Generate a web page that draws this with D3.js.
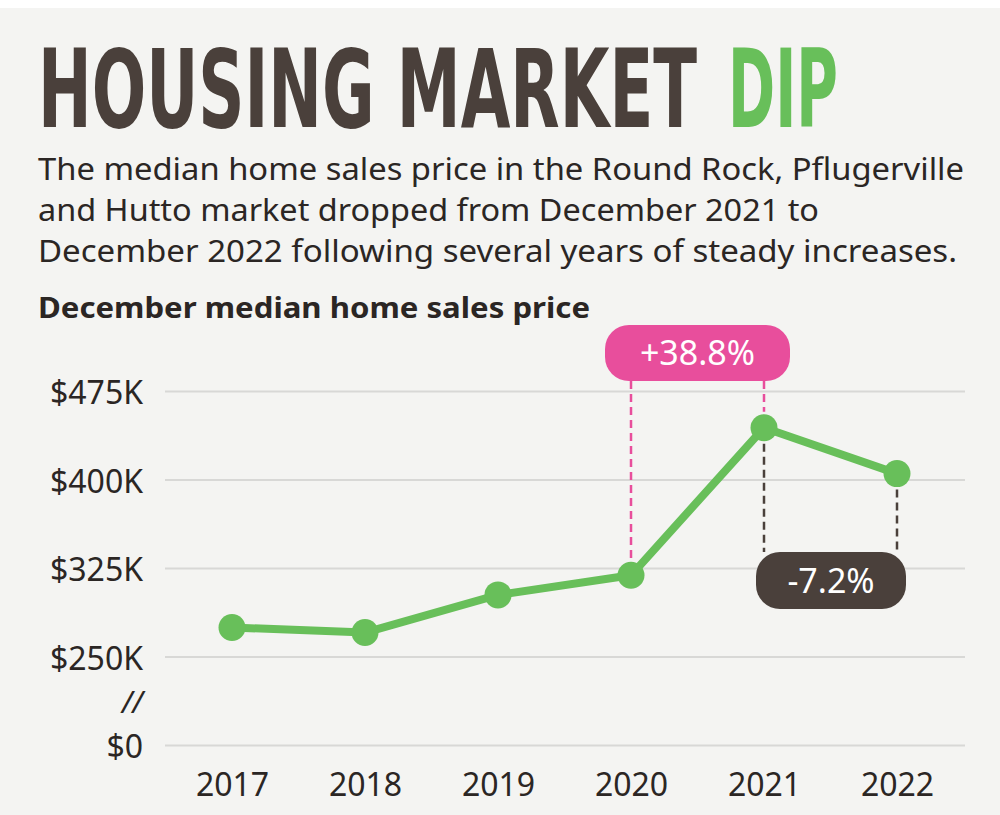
<!DOCTYPE html>
<html>
<head>
<meta charset="utf-8">
<script src="https://cdn.jsdelivr.net/npm/d3@7"></script>
<style>
  html, body { margin: 0; padding: 0; background: #fff; }
  svg { display: block; }
</style>
</head>
<body>
<div id="chart"></div>
<script>
// chart data
const years = [2017, 2018, 2019, 2020, 2021, 2022];
const prices = [274600, 270300, 302200, 318800, 443900, 405000];
const yTicks = [0, 250000, 325000, 400000, 475000];
const yTickLabels = ["$0", "$250K", "$325K", "$400K", "$475K"];
const changes = [
  { from: 2020, to: 2021, label: "+38.8%" },
  { from: 2021, to: 2022, label: "-7.2%" }
];

const W = 1000, H = 815;
const ink = "#2b2624", brown = "#4a403b", green = "#68bf5a", pink = "#e84e9c";

const svg = d3.select("#chart").append("svg")
  .attr("width", W).attr("height", H);

svg.append("rect").attr("x", 0).attr("y", 8).attr("width", W).attr("height", H - 8)
  .attr("fill", "#f4f4f2");

// title, two pieces so each can be fitted on its own
const titleParts = [
  { t: "HOUSING MARKET", x: 38, w: 659, fill: brown },
  { t: "DIP", x: 728, w: 110, fill: green }
];
svg.append("g").selectAll("text").data(titleParts).join("text")
  .attr("x", d => d.x).attr("y", 127)
  .attr("font-family", "'Liberation Sans Narrow', 'DejaVu Sans Condensed', sans-serif")
  .attr("font-weight", "bold")
  .attr("font-size", 108)
  .attr("fill", d => d.fill)
  .attr("textLength", d => d.w)
  .attr("lengthAdjust", "spacingAndGlyphs")
  .text(d => d.t);

// subtitle
const subLines = [
  { t: "The median home sales price in the Round Rock, Pflugerville", w: 926 },
  { t: "and Hutto market dropped from December 2021 to", w: 781 },
  { t: "December 2022 following several years of steady increases.", w: 919 }
];
svg.append("g").selectAll("text").data(subLines).join("text")
  .attr("x", 38).attr("y", (d, i) => 180 + i * 41)
  .attr("font-family", "'Noto Sans', sans-serif")
  .attr("font-size", 31)
  .attr("fill", ink)
  .attr("textLength", d => d.w)
  .attr("lengthAdjust", "spacingAndGlyphs")
  .text(d => d.t);

svg.append("text")
  .attr("x", 38).attr("y", 318)
  .attr("font-family", "'Noto Sans', sans-serif")
  .attr("font-weight", "bold")
  .attr("font-size", 28)
  .attr("fill", ink)
  .attr("textLength", 552)
  .attr("lengthAdjust", "spacingAndGlyphs")
  .text("December median home sales price");

// scales
const x = d3.scalePoint().domain(years).range([232, 897]);
const y = d3.scaleLinear().domain([0, 250000, 475000]).range([745, 656.5, 391]);

// y axis with gridlines
const yAxis = svg.append("g")
  .attr("transform", "translate(165,0)")
  .call(d3.axisLeft(y)
    .tickValues(yTicks)
    .tickFormat((d, i) => yTickLabels[i])
    .tickSize(-800)
    .tickPadding(22));
yAxis.select(".domain").remove();
yAxis.selectAll(".tick line").attr("stroke", "#d8d8d6").attr("stroke-width", 2);
yAxis.selectAll(".tick text")
  .attr("font-family", "'Noto Sans', sans-serif")
  .attr("font-size", 32)
  .attr("fill", ink)
  .attr("dy", "0.4em");

// axis break mark
svg.append("text")
  .attr("x", 143).attr("y", (y(0) + y(250000)) / 2 + 12)
  .attr("text-anchor", "end")
  .attr("font-family", "'Noto Sans', sans-serif")
  .attr("font-size", 30)
  .attr("font-style", "italic")
  .attr("fill", ink)
  .text("//");

// x axis
const xAxis = svg.append("g")
  .attr("transform", "translate(0,769)")
  .call(d3.axisBottom(x).tickSize(0).tickPadding(0));
xAxis.select(".domain").remove();
xAxis.selectAll(".tick text")
  .attr("font-family", "'Noto Sans', sans-serif")
  .attr("font-size", 32)
  .attr("fill", ink)
  .attr("dy", "0.85em");

const pts = years.map((yr, i) => ({ year: yr, value: prices[i] }));
const valueOf = yr => prices[years.indexOf(yr)];

// annotations
const up = changes[0], down = changes[1];
const upTop = 325, upBot = 381;
const dnTop = 552, dnBot = 609;

svg.append("g").selectAll("line").data([up.from, up.to]).join("line")
  .attr("x1", d => x(d)).attr("x2", d => x(d))
  .attr("y1", upBot).attr("y2", d => y(valueOf(d)) - 16)
  .attr("stroke", pink).attr("stroke-width", 2.5)
  .attr("stroke-dasharray", "8,5");

svg.append("g").selectAll("line").data([down.from, down.to]).join("line")
  .attr("x1", d => x(d)).attr("x2", d => x(d))
  .attr("y1", d => y(valueOf(d)) + 16).attr("y2", dnTop)
  .attr("stroke", brown).attr("stroke-width", 2.5)
  .attr("stroke-dasharray", "8,5");

// line and dots
svg.append("path").datum(pts)
  .attr("fill", "none")
  .attr("stroke", green)
  .attr("stroke-width", 8)
  .attr("stroke-linejoin", "round")
  .attr("d", d3.line().x(d => x(d.year)).y(d => y(d.value)));

svg.append("g").selectAll("circle").data(pts).join("circle")
  .attr("cx", d => x(d.year)).attr("cy", d => y(d.value))
  .attr("r", 13.5).attr("fill", green);

// label pills
const pills = [
  { c: up, x0: x(up.from) - 26, x1: x(up.to) + 26, y0: upTop, y1: upBot, fill: pink },
  { c: down, x0: x(down.from) - 8, x1: x(down.to) + 9, y0: dnTop, y1: dnBot, fill: brown }
];
const pill = svg.append("g").selectAll("g").data(pills).join("g");
pill.append("rect")
  .attr("x", d => d.x0).attr("y", d => d.y0)
  .attr("width", d => d.x1 - d.x0).attr("height", d => d.y1 - d.y0)
  .attr("rx", 24).attr("ry", 24)
  .attr("fill", d => d.fill);
pill.append("text")
  .attr("x", d => (d.x0 + d.x1) / 2)
  .attr("y", d => (d.y0 + d.y1) / 2 + 12)
  .attr("text-anchor", "middle")
  .attr("font-family", "'Noto Sans', sans-serif")
  .attr("font-size", 34)
  .attr("fill", "#fff")
  .text(d => d.c.label);
</script>
</body>
</html>
